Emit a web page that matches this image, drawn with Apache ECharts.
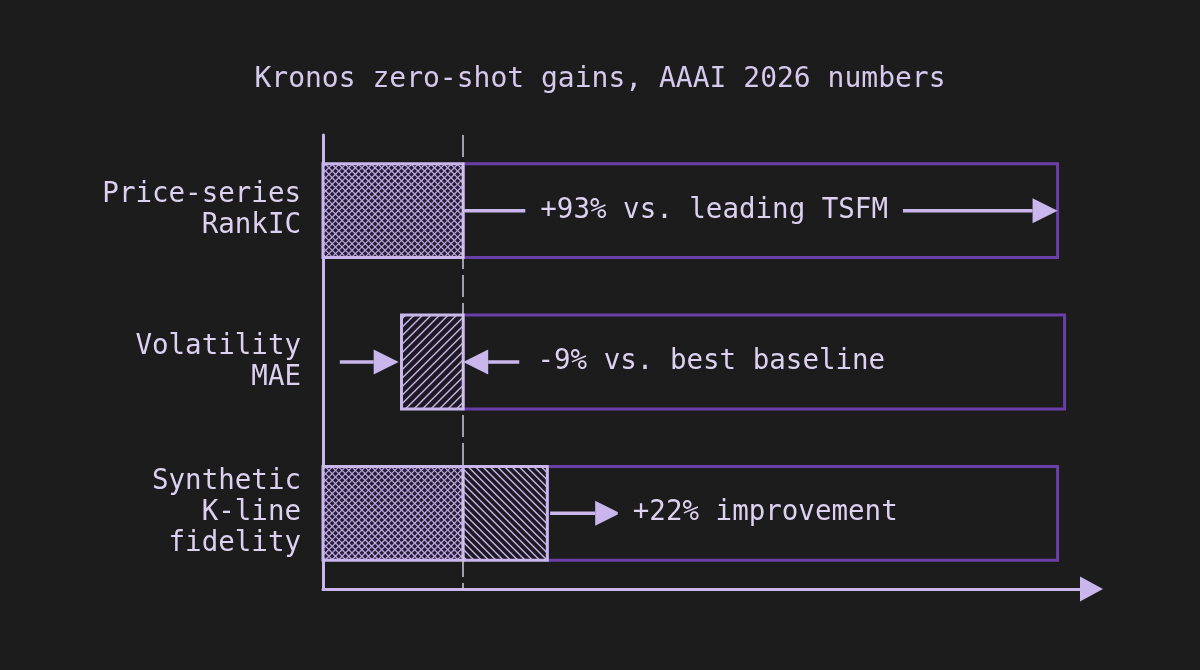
<!DOCTYPE html>
<html>
<head>
<meta charset="utf-8">
<script src="https://cdn.jsdelivr.net/npm/echarts@6/dist/echarts.min.js"></script>
<style>
  html, body { margin: 0; padding: 0; background: #1c1c1c; }
  #chart { width: 1200px; height: 670px; }
</style>
</head>
<body>
<div id="chart"></div>
<script>
// ---------- data (x axis: leading baseline = 100) ----------
const categories = ['Price-series\nRankIC', 'Volatility\nMAE', 'Synthetic\nK-line\nfidelity'];
const baselineLevel = 100;
const axisMax = 540;
// [row, from, to]
const crossHatchBars = [[0, 0, 100], [2, 0, 100]];
const lineHatchBars = [[1, 56, 100], [2, 100, 160]];
const outlineBars = [[0, 100, 524], [1, 100, 529], [2, 160, 524]];
const arrowSpans = [[0, 100, 524], [1, 12, 54], [1, 140, 100], [2, 162, 212]];
const noteLabels = ['+93% vs. leading TSFM', '-9% vs. best baseline', '+22% improvement'];
const noteStarts = [155, 153, 221];

// ---------- styles ----------
const BG = '#1c1c1c';
const LAV = '#c9b6ec';
const DARKP = '#6b3fa8';
const TXT = '#ddd1f1';
const FONT = '"DejaVu Sans Mono", "Liberation Mono", monospace';
const hatchDirByRow = ['up', 'up', 'down'];
const BAR_RATIO = 0.62;

function hatchSegments(x0, y0, x1, y1, step, dir) {
  const segs = [];
  if (dir === 'up') { // '/'  x + y = c
    for (let c = x0 + y0 + step / 2; c < x1 + y1; c += step) {
      const xa = Math.max(x0, c - y1), xb = Math.min(x1, c - y0);
      if (xb > xa) segs.push([xa, c - xa, xb, c - xb]);
    }
  } else { // '\'  x - y = c
    for (let c = x0 - y1 + step / 2; c < x1 - y0; c += step) {
      const xa = Math.max(x0, c + y0), xb = Math.min(x1, c + y1);
      if (xb > xa) segs.push([xa, xa - c, xb, xb - c]);
    }
  }
  return segs;
}

function barRect(api) {
  const row = api.value(0);
  const p0 = api.coord([api.value(1), row]);
  const p1 = api.coord([api.value(2), row]);
  const h = api.size([0, 1])[1] * BAR_RATIO;
  return { x: Math.min(p0[0], p1[0]), y: p0[1] - h / 2, width: Math.abs(p1[0] - p0[0]), height: h };
}

function lineChildren(segs, color, width) {
  return segs.map(s => ({
    type: 'line',
    shape: { x1: s[0], y1: s[1], x2: s[2], y2: s[3] },
    style: { stroke: color, lineWidth: width }
  }));
}

function renderCross(params, api) {
  const r = barRect(api);
  const x1 = r.x + r.width, y1 = r.y + r.height;
  const segs = hatchSegments(r.x, r.y, x1, y1, 6.6, 'up').concat(hatchSegments(r.x, r.y, x1, y1, 6.6, 'down'));
  return {
    type: 'group',
    children: [{ type: 'rect', shape: r, style: { fill: '#261e32' } }]
      .concat(lineChildren(segs, '#bea8e6', 1.2))
      .concat([{ type: 'rect', shape: r, style: { fill: 'none', stroke: LAV, lineWidth: 3 } }])
  };
}

function renderHatch(params, api) {
  const r = barRect(api);
  const row = api.value(0);
  const x1 = r.x + r.width, y1 = r.y + r.height;
  const dir = hatchDirByRow[row];
  const step = dir === 'up' ? 8.5 : 7.3;
  const segs = hatchSegments(r.x, r.y, x1, y1, step, dir);
  return {
    type: 'group',
    children: [{ type: 'rect', shape: r, style: { fill: '#1d1a23' } }]
      .concat(lineChildren(segs, '#c9b6ec', 1.4))
      .concat([{ type: 'rect', shape: r, style: { fill: 'none', stroke: LAV, lineWidth: 3 } }])
  };
}

function renderOutline(params, api) {
  const r = barRect(api);
  return { type: 'rect', shape: r, style: { fill: 'none', stroke: DARKP, lineWidth: 3 } };
}

function renderArrow(params, api) {
  const row = api.value(0);
  const a = api.coord([api.value(1), row]);
  const b = api.coord([api.value(2), row]);
  const dir = b[0] >= a[0] ? 1 : -1;
  const headLen = 25, headHalf = 12.5;
  const baseX = b[0] - dir * headLen;
  return {
    type: 'group',
    children: [
      { type: 'line', shape: { x1: a[0], y1: a[1], x2: baseX, y2: b[1] }, style: { stroke: LAV, lineWidth: 3.5 } },
      { type: 'polygon', shape: { points: [[b[0], b[1]], [baseX, b[1] - headHalf], [baseX, b[1] + headHalf]] }, style: { fill: LAV } }
    ]
  };
}

function renderNote(params, api) {
  const row = api.value(0);
  const p = api.coord([api.value(1), row]);
  return {
    type: 'text',
    x: p[0] - 15,
    y: p[1],
    style: {
      text: noteLabels[params.dataIndex],
      fill: TXT,
      fontSize: 27.5,
      fontFamily: FONT,
      align: 'left',
      verticalAlign: 'middle',
      backgroundColor: BG,
      padding: [2, 15]
    }
  };
}

const chart = echarts.init(document.getElementById('chart'), null, { renderer: 'canvas' });
chart.setOption({
  backgroundColor: BG,
  animation: false,
  title: {
    text: 'Kronos zero-shot gains, AAAI 2026 numbers',
    left: 'center',
    top: 61,
    textStyle: { color: '#d6c9ee', fontSize: 28, fontWeight: 'normal', fontFamily: FONT }
  },
  grid: { left: 323, right: 120, top: 135, bottom: 81, containLabel: false },
  xAxis: {
    type: 'value',
    min: 0,
    max: axisMax,
    axisLine: {
      show: true,
      symbol: ['none', 'triangle'],
      symbolSize: [25, 23],
      symbolOffset: [0, 11.5],
      lineStyle: { color: LAV, width: 3 }
    },
    axisTick: { show: false },
    axisLabel: { show: false },
    splitLine: { show: false }
  },
  yAxis: {
    type: 'category',
    inverse: true,
    data: categories,
    axisLine: { show: true, lineStyle: { color: LAV, width: 3 } },
    axisTick: { show: false },
    axisLabel: { color: TXT, fontSize: 27.5, fontFamily: FONT, lineHeight: 31, margin: 22, align: 'right' },
    splitLine: { show: false }
  },
  series: [
    {
      type: 'custom', name: 'outline', renderItem: renderOutline, encode: { y: 0, x: [1, 2] },
      data: outlineBars, z: 2, clip: false,
      markLine: {
        silent: true, symbol: 'none', label: { show: false },
        lineStyle: { color: '#d0c9d9', width: 1.5, type: [22, 6] },
        data: [{ xAxis: baselineLevel }]
      }
    },
    { type: 'custom', name: 'kronos', renderItem: renderCross, encode: { y: 0, x: [1, 2] }, data: crossHatchBars, z: 3, clip: false },
    { type: 'custom', name: 'gain', renderItem: renderHatch, encode: { y: 0, x: [1, 2] }, data: lineHatchBars, z: 3, clip: false },
    { type: 'custom', name: 'arrows', renderItem: renderArrow, encode: { y: 0, x: [1, 2] }, data: arrowSpans, z: 4, clip: false },
    { type: 'custom', name: 'notes', renderItem: renderNote, encode: { y: 0, x: 1 }, data: noteStarts.map((s, i) => [i, s]), z: 5, clip: false }
  ]
});
</script>
</body>
</html>
